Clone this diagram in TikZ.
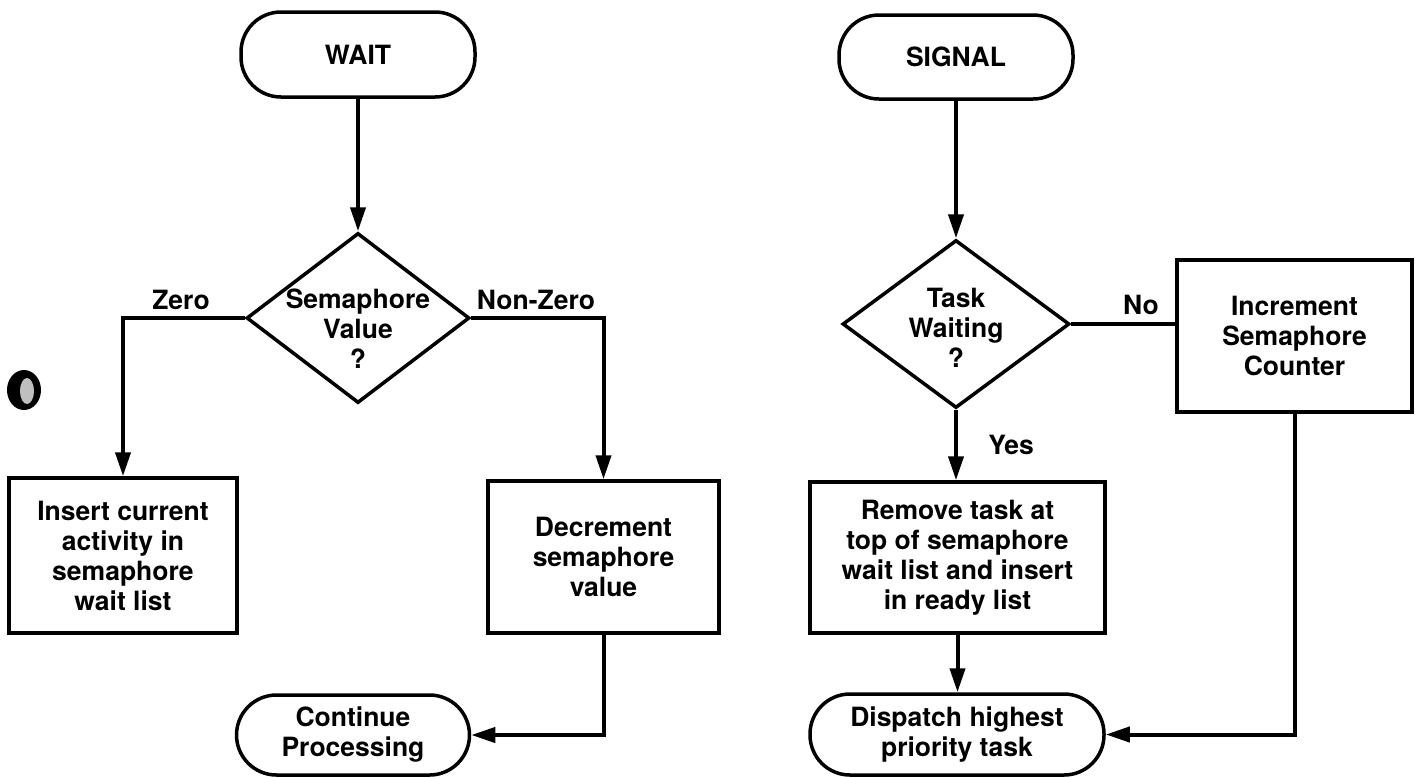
\documentclass[tikz,border=0pt]{standalone}
\usepackage{fontspec}
\setmainfont{TeX Gyre Heros}
\usetikzlibrary{shapes.geometric,arrows.meta}
\begin{document}
\begin{tikzpicture}[x=1pt,y=-1pt,
  every node/.style={font=\fontsize{26.5}{30}\selectfont\bfseries, inner sep=0pt},
  terminal/.style={draw, line width=3.5pt, rounded corners=40pt, align=center},
  process/.style={draw, line width=3.5pt, align=center},
  decision/.style={draw, line width=3.5pt, shape=diamond},
  txt/.style={align=center},
  flow/.style={draw, line width=4pt, -{Triangle[length=24pt,width=15pt]}},
  plain/.style={draw, line width=4pt},
]
\useasboundingbox (0,0) rectangle (1415,777);

% punched binder hole
\fill[black] (24,390) ellipse [x radius=17pt, y radius=20pt];
\fill[gray!50] (27,391) ellipse [x radius=7pt, y radius=13pt];

% ---- WAIT procedure ----
\node[terminal, minimum width=234pt, minimum height=85pt] (wait) at (358,54.5) {WAIT};
\node[decision, minimum width=223pt, minimum height=170pt] (sem) at (358,318) {};
\node[txt] (semtxt) at (358,329) {Semaphore\\Value\\?};
\node[process, minimum width=228pt, minimum height=155pt] (insert) at (123,555.5)
  {Insert current\\activity in\\semaphore\\wait list};
\node[process, minimum width=231pt, minimum height=152pt] (dec) at (603.5,557)
  {Decrement\\semaphore\\value};
\node[terminal, minimum width=233pt, minimum height=80pt] (cont) at (353,735)
  {Continue\\Processing};

\node (lzero) at (181,300) {Zero};
\node (lnonzero) at (536,300) {Non-Zero};

\draw[flow] (wait.south) -- (sem.north);
\draw[flow] (sem.west) -| (insert.north);
\draw[flow] (sem.east) -| (dec.north);
\draw[flow] (dec.south) |- (cont.east);

% ---- SIGNAL procedure ----
\node[terminal, minimum width=234pt, minimum height=84pt] (signal) at (956,57) {SIGNAL};
\node[decision, minimum width=227pt, minimum height=168pt] (task) at (956,324) {};
\node[txt] (tasktxt) at (956,328) {Task\\Waiting\\?};
\node[process, minimum width=235pt, minimum height=152pt] (inc) at (1294.5,336)
  {Increment\\Semaphore\\Counter};
\node[process, minimum width=295pt, minimum height=151pt] (remove) at (957.5,557.5)
  {Remove task at\\top of semaphore\\wait list and insert\\in ready list};
\node[terminal, minimum width=294pt, minimum height=81pt] (dispatch) at (957,734.5)
  {Dispatch highest\\priority task};

\node (lno) at (1141,305) {No};
\node (lyes) at (1011,445) {Yes};

\draw[flow] (signal.south) -- (task.north);
\draw[plain] (task.east) -- (task.east -| inc.west);
\draw[flow] (task.south) -- (task.south |- remove.north);
\draw[flow] (remove.south) -- (remove.south |- dispatch.north);
\draw[flow] (inc.south) |- (dispatch.east);
\end{tikzpicture}
\end{document}
